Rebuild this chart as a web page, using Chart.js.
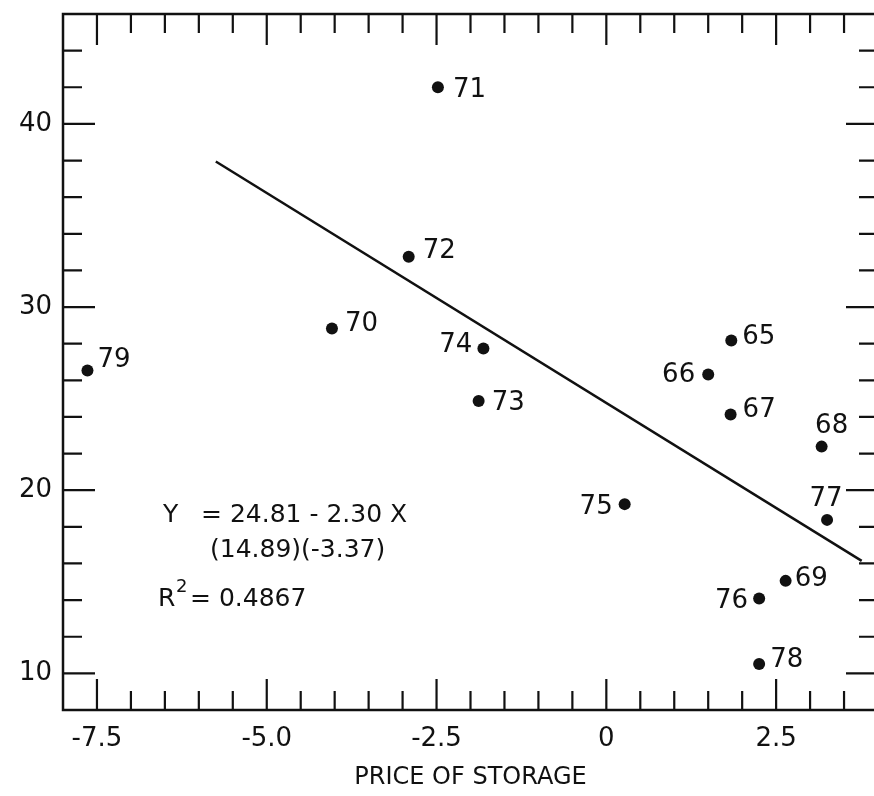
<!DOCTYPE html>
<html>
<head>
<meta charset="utf-8">
<script src="https://cdn.jsdelivr.net/npm/chart.js@4"></script>
<style>
  html, body { margin: 0; padding: 0; background: #fff; }
  /* the frame's right edge runs just past the picture, so the canvas is a bit wider and clipped */
  #wrap { width: 874px; height: 796px; overflow: hidden; position: relative; }
  #chart { display: block; }
</style>
</head>
<body>
<div id="wrap"><canvas id="chart" width="884" height="796"></canvas></div>
<script>
// years (point labels) and their values
var years = ['65', '66', '67', '68', '69', '70', '71', '72', '73', '74', '75', '76', '77', '78', '79'];
var storagePrice = [1.84, 1.50, 1.83, 3.17, 2.64, -4.04, -2.48, -2.91, -1.88, -1.81, 0.27, 2.25, 3.25, 2.25, -7.64];
var yValues = [28.18, 26.32, 24.14, 22.38, 15.05, 28.83, 42.0, 32.74, 24.87, 27.74, 19.24, 14.09, 18.38, 10.51, 26.54];

// fitted line, end points
var fitX = [-5.75, 3.76];
var fitY = [37.95, 16.14];

// axis ticks
var xTickLabels = ['-7.5', '-5.0', '-2.5', '0', '2.5'];
var yTickLabels = ['10', '20', '30', '40'];

// where each year label sits relative to its dot
var labelPlace = [
  [11, -6, 'left'], [-13, -2, 'right'], [12, -7, 'left'], [10, -23, 'center'], [9, -4, 'left'],
  [13, -7, 'left'], [15, 0, 'left'], [14, -8, 'left'], [13, -1, 'left'], [-11, -6, 'right'],
  [-12, 0, 'right'], [-11, 0, 'right'], [-1, -23, 'center'], [11, -7, 'left'], [10, -13, 'left']
];

var ink = '#111';
var fontFamily = '"DejaVu Sans", sans-serif';

function isMajor(v, step) {
  var r = v / step;
  return Math.abs(r - Math.round(r)) < 1e-6;
}

function fmtX(v) {
  if (Math.abs(v) < 1e-9) return '0';
  return v.toFixed(1);
}

const framePlugin = {
  id: 'frame',
  afterDraw(chart) {
    const ctx = chart.ctx, a = chart.chartArea;
    const xs = chart.scales.x, ys = chart.scales.y;
    ctx.save();
    ctx.strokeStyle = ink;
    ctx.lineWidth = 2.5;
    ctx.strokeRect(a.left, a.top, a.right - a.left, a.bottom - a.top);
    ctx.lineWidth = 2.2;
    ctx.beginPath();
    xs.ticks.forEach(t => {
      if (t.value <= xs.min || t.value >= xs.max) return;
      const px = xs.getPixelForValue(t.value);
      const len = isMajor(t.value, 2.5) ? 31 : 19;
      ctx.moveTo(px, a.bottom); ctx.lineTo(px, a.bottom - len);
      ctx.moveTo(px, a.top); ctx.lineTo(px, a.top + len);
    });
    ys.ticks.forEach(t => {
      if (t.value <= ys.min || t.value >= ys.max) return;
      const py = ys.getPixelForValue(t.value);
      const len = isMajor(t.value, 10) ? 32 : 19;
      ctx.moveTo(a.left, py); ctx.lineTo(a.left + len, py);
      ctx.moveTo(a.right, py); ctx.lineTo(a.right - len, py);
    });
    ctx.stroke();
    ctx.restore();
  },
  afterDatasetsDraw(chart) {
    const ctx = chart.ctx;
    const meta = chart.getDatasetMeta(0);
    ctx.save();
    ctx.fillStyle = ink;
    ctx.font = '26px ' + fontFamily;
    ctx.textBaseline = 'alphabetic';
    meta.data.forEach((pt, i) => {
      const p = labelPlace[i];
      ctx.textAlign = p[2];
      ctx.fillText(years[i], pt.x + p[0], pt.y + p[1] + 9.5);
    });

    // regression note
    ctx.textAlign = 'left';
    ctx.font = '25px ' + fontFamily;
    ctx.fillText('Y', 163, 513 + 9);
    ctx.fillText('= 24.81 - 2.30 X', 201, 513 + 9);
    ctx.fillText('(14.89)(-3.37)', 210, 548 + 9);
    ctx.fillText('R', 158, 597 + 9);
    ctx.font = '18px ' + fontFamily;
    ctx.fillText('2', 176, 586 + 6);
    ctx.font = '25px ' + fontFamily;
    ctx.fillText('= 0.4867', 190, 597 + 9);
    ctx.restore();
  }
};

const scatterData = storagePrice.map((x, i) => ({ x: x, y: yValues[i] }));
const fitData = fitX.map((x, i) => ({ x: x, y: fitY[i] }));

new Chart(document.getElementById('chart'), {
  type: 'scatter',
  data: {
    datasets: [
      {
        label: 'years',
        data: scatterData,
        pointRadius: 6,
        pointHoverRadius: 6,
        backgroundColor: ink,
        borderWidth: 0
      },
      {
        label: 'fit',
        data: fitData,
        showLine: true,
        pointRadius: 0,
        borderColor: ink,
        borderWidth: 2.5,
        fill: false
      }
    ]
  },
  options: {
    responsive: false,
    animation: false,
    devicePixelRatio: 1,
    layout: { autoPadding: false, padding: { left: 0, top: 14, right: 6, bottom: 0 } },
    plugins: {
      legend: { display: false },
      tooltip: { enabled: false }
    },
    scales: {
      x: {
        type: 'linear',
        min: -8,
        max: 4,
        grid: { display: false, drawTicks: false },
        border: { display: false },
        ticks: {
          stepSize: 0.5,
          autoSkip: false,
          maxRotation: 0,
          padding: 14,
          color: ink,
          font: { family: fontFamily, size: 26 },
          callback: function (v) {
            var s = fmtX(v);
            return xTickLabels.indexOf(s) >= 0 ? s : '';
          }
        },
        title: {
          display: true,
          text: 'PRICE OF STORAGE',
          color: ink,
          font: { family: fontFamily, size: 24 },
          padding: { top: 0, bottom: 4 }
        },
        afterFit: function (s) { s.height = 86; s.paddingLeft = 0; s.paddingRight = 0; }
      },
      y: {
        type: 'linear',
        min: 8,
        max: 46,
        grid: { display: false, drawTicks: false },
        border: { display: false },
        ticks: {
          stepSize: 2,
          autoSkip: false,
          padding: 11,
          color: ink,
          font: { family: fontFamily, size: 26 },
          callback: function (v) {
            var s = String(v);
            return yTickLabels.indexOf(s) >= 0 ? s : '';
          }
        },
        afterFit: function (s) { s.width = 63; s.paddingTop = 0; s.paddingBottom = 0; }
      }
    }
  },
  plugins: [framePlugin]
});
</script>
</body>
</html>
